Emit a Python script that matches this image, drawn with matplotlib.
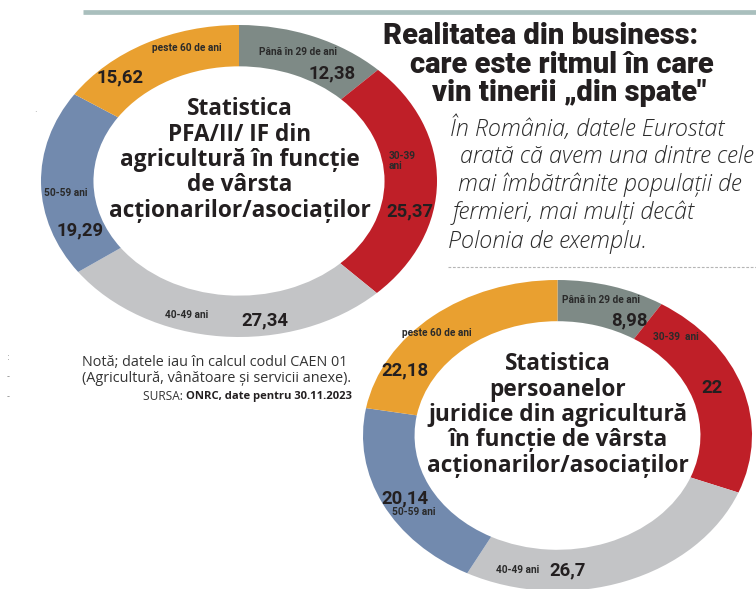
import matplotlib
matplotlib.use("Agg")
import matplotlib.pyplot as plt

# data
age_groups = ["Până în 29 de ani", "30-39 ani", "40-49 ani", "50-59 ani", "peste 60 de ani"]
pfa_values = [12.38, 25.37, 27.34, 19.29, 15.62]
pj_values = [8.98, 22, 26.7, 20.14, 22.18]
colors = ["#7e8a86", "#bf1f28", "#c3c4c6", "#728aae", "#e9a030"]

pfa_title = "Statistica\nPFA/II/ IF din\nagricultură în funcție\nde vârsta\nacționarilor/asociaților"
pj_title = "Statistica\npersoanelor\njuridice din agricultură\nîn funcție de vârsta\nacționarilor/asociaților"

headline = ["Realitatea din business:", "care este ritmul în care", "vin tinerii „din spate\""]
intro = ["În România, datele Eurostat", "arată că avem una dintre cele",
         "mai îmbătrânite populații de", "fermieri, mai mulți decât", "Polonia de exemplu."]


def fmt(v):
    return ("%g" % v).replace(".", ",")


W, H = 756, 589
fig = plt.figure(figsize=(W / 100, H / 100), dpi=100)


def donut(box, values):
    x0, y0, x1, y1 = box
    ax = fig.add_axes([x0 / W, 1 - y1 / H, (x1 - x0) / W, (y1 - y0) / H])
    ax.pie(values, colors=colors, startangle=90, counterclock=False, radius=1,
           wedgeprops=dict(width=0.265, linewidth=0))
    ax.set_aspect("auto")
    ax.set_xlim(-1, 1)
    ax.set_ylim(-1, 1)
    ax.axis("off")
    return ax


donut((41, 25, 437, 337), pfa_values)
donut((363, 280, 752, 591), pj_values)

# page overlay in pixel coords
pg = fig.add_axes([0, 0, 1, 1])
pg.set_xlim(0, W)
pg.set_ylim(H, 0)
pg.axis("off")
pg.patch.set_alpha(0)

pg.plot([83, 756], [11.7, 11.7], color="#a9bfbd", lw=3.4, solid_capstyle="butt")
pg.plot([448, 756], [267, 267], color="#b5b5b5", lw=0.8, ls=(0, (2.5, 1.5)))

ink = "#231f20"
hfont = dict(family="Roboto", weight="black", color=ink, fontsize=21)
pg.text(383, 36, headline[0], ha="left", va="center", **hfont)
pg.text(410, 65, headline[1], ha="left", va="center", **hfont)
pg.text(432, 93, headline[2], ha="left", va="center", **hfont)

ifont = dict(family="Open Sans", style="italic", weight="light", color="#2b2b2b", fontsize=16.8)
ix = [450, 460, 458, 453, 448]
iy = [129, 157, 185, 213, 242]
for t, x, y in zip(intro, ix, iy):
    pg.text(x, y, t, ha="left", va="center", **ifont)

cfont = dict(family="Open Sans", weight="bold", color=ink, fontsize=16.3, linespacing=1.08)
pg.text(240, 160, pfa_title, ha="center", va="center", **cfont)
pg.text(558, 415, pj_title, ha="center", va="center", **cfont)

lab = dict(family="Roboto", weight="bold", color="#2a2a2a", fontsize=7.3)
val = dict(family="Roboto", weight="bold", color="#231f20", fontsize=13.3)

# donut 1 labels
pfa_name_pos = [(298, 52), (389, 161), (187, 315), (66, 193), (187, 48)]
pfa_val_pos = [(332, 73), (410, 211), (265, 320), (80, 230), (120, 77)]
pfa_names = ["Până în 29 de ani", "30-39\nani", "40-49 ani", "50-59 ani", "peste 60 de ani"]
for i, v in enumerate(pfa_values):
    nx, ny = pfa_name_pos[i]
    ha = "left" if i == 1 else "center"
    pg.text(nx, ny, pfa_names[i], ha=ha, va="center", linespacing=1.0, **lab)
    vx, vy = pfa_val_pos[i]
    pg.text(vx, vy, fmt(v), ha="center", va="center", **val)

# donut 2 labels
pj_name_pos = [(601, 300), (676, 337), (518, 570), (414, 512), (437, 333)]
pj_val_pos = [(629, 320), (712, 388), (568, 570), (405, 498), (405, 370)]
pj_names = ["Până în 29 de ani", "30-39  ani", "40-49 ani", "50-59 ani", "peste 60 de ani"]
for i, v in enumerate(pj_values):
    nx, ny = pj_name_pos[i]
    pg.text(nx, ny, pj_names[i], ha="center", va="center", **lab)
    vx, vy = pj_val_pos[i]
    pg.text(vx, vy, fmt(v), ha="center", va="center", **val)

# note + source
nfont = dict(family="Open Sans", color="#333333", fontsize=10.4)
pg.text(82, 362, "Notă; datele iau în calcul codul CAEN 01", ha="left", va="center", **nfont)
pg.text(82, 379, "(Agricultură, vânătoare și servicii anexe).", ha="left", va="center", **nfont)
pg.text(186, 396, "SURSA: ", ha="right", va="center", family="Open Sans", color="#333333", fontsize=8.6)
pg.text(186, 396, "ONRC, date pentru 30.11.2023", ha="left", va="center",
        family="Open Sans", weight="bold", color="#231f20", fontsize=8.1)

# scan specks on the left margin
for y, s in [(357, ":"), (377, "-"), (397, "-")]:
    pg.text(8, y, s, ha="center", va="center", color="#888888", fontsize=6)
pg.text(35, 110, ".", ha="center", va="center", color="#999999", fontsize=6)

fig.savefig("out.png", dpi=100)
